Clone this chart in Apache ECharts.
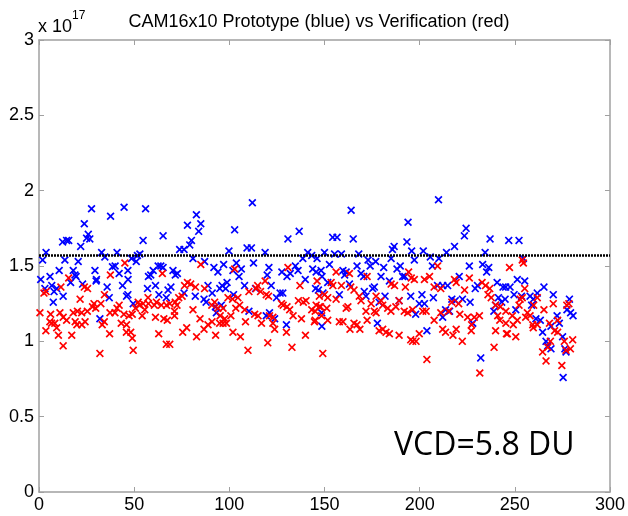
<!DOCTYPE html>
<html><head><meta charset="utf-8">
<script src="https://cdn.jsdelivr.net/npm/echarts@6/dist/echarts.min.js"></script>
<style>html,body{margin:0;padding:0;background:#fff}#c{width:628px;height:516px}</style>
</head><body><div id="c"></div>
<script>
var titleText = 'CAM16x10 Prototype (blue) vs Verification (red)';
var annotation = 'VCD=5.8 DU';
var xTicks = [0, 50, 100, 150, 200, 250, 300];
var yTicks = [0, 0.5, 1, 1.5, 2, 2.5, 3];
var referenceLevel = 1.566;
var prototypeBlue = [
[0.9,1.41],[1.9,1.54],[3.1,1.35],[3.7,1.59],[5.8,1.43],[6.7,1.37],[7.5,1.26],[7.9,1.33],[9.3,1.35],[10.6,1.47],[12.4,1.66],[12.7,1.30],[13.6,1.54],[14.5,1.67],[15.6,1.67],[16.6,1.39],[18,1.47],[18.9,1.44],[19.5,1.43],[20.6,1.53],[21.9,1.63],[22.9,1.38],[23.8,1.78],[25,1.685],[25.9,1.71],[26.7,1.68],[27.6,1.88],[29.4,1.47],[30,1.40],[30.2,1.41],[32,1.15],[32.9,1.59],[34.6,1.56],[35.8,1.36],[36.9,1.29],[37.6,1.83],[38.6,1.495],[40,1.50],[41,1.59],[42.1,1.45],[43.9,1.37],[44.7,1.89],[46.7,1.47],[46.7,1.31],
[46.8,1.41],[46.0,1.30],[48.6,1.55],[49.5,1.25],[51.1,1.53],[51.7,1.57],[53,1.58],[54.7,1.67],[56,1.88],[57,1.35],[57.5,1.43],[58.7,1.44],[60,1.47],[61.2,1.37],[62.6,1.50],[63,1.31],[64,1.50],[65.2,1.49],[65.2,1.70],[66.9,1.29],[67.8,1.34],[69.3,1.36],[70.4,1.47],[71.6,1.44],[72.7,1.45],[73.9,1.61],[76.2,1.61],[76.2,1.32],[78,1.77],[79.2,1.64],[80.1,1.67],[80.9,1.55],[82.1,1.30],[82.7,1.84],[83.9,1.73],[85,1.78],[86.7,1.28],[87,1.53],[87.8,1.26],[88.8,1.37],[91,1.32],[91.9,1.49],[92.7,1.23],[93.2,1.19],[94,1.46],[95,1.35],[95.8,1.24],
[96.2,1.37],[97,1.51],[98.1,1.35],[98.8,1.39],[99.8,1.60],[101.9,1.47],[102.2,1.31],[102.8,1.74],[103.7,1.52],[105.1,1.43],[106.3,1.48],[108,1.37],[109.3,1.62],[110.3,1.20],[111.6,1.62],[112.1,1.92],[112.7,1.52],[113.8,1.35],[118.8,1.59],[119.4,1.17],[119.9,1.44],[120.8,1.49],[121.1,1.19],[122,1.37],[123.8,1.15],[124.8,1.29],[126.7,1.32],[127.6,1.46],[128.1,1.32],[130,1.11],[130.3,1.43],[130.8,1.68],[132,1.45],[134.7,1.50],[136.1,1.47],[136.7,1.73],[138.6,1.55],[139.9,1.41],[141.2,1.59],[143.3,1.57],[143.8,1.48],[145.3,1.35],[146.1,1.55],[148.5,1.19],[148.7,1.43],[149.2,1.32],
[145.6,1.46],[146.8,1.34],[148.2,1.47],[148.6,1.10],[150,1.59],[151.7,1.39],[152.6,1.51],[154.3,1.69],[155.3,1.58],[156.6,1.69],[157.8,1.31],[158.9,1.58],[159.7,1.47],[160.6,1.44],[161.4,1.46],[163.1,1.38],[164,1.87],[165.1,1.68],[167.1,1.50],[168,1.58],[169.2,1.45],[170.6,1.43],[170.9,1.33],[171.8,1.30],[172.9,1.54],[174,1.50],[175.3,1.35],[176.2,1.36],[176.9,1.53],[177.8,1.12],[178.7,1.26],[179.7,1.43],[181.1,1.49],[181.8,1.30],[184.1,1.40],[185,1.55],[185.7,1.61],[186.6,1.63],[188.1,1.48],[189.2,1.27],[189.8,1.50],[191.1,1.43],[192.2,1.43],[193.3,1.66],[193.9,1.79],[195.3,1.30],[195.8,1.60],
[197.2,1.54],[197.9,1.18],[199.8,1.25],[201.2,1.31],[201.9,1.60],[202.5,1.25],[203.8,1.07],[205.6,1.56],[206.7,1.50],[207.2,1.29],[209.4,1.37],[209.9,1.94],[210.1,1.55],[212.1,1.37],[212.1,1.16],[213.6,1.21],[214.1,1.59],[214.7,1.37],[215.7,1.20],[216.9,1.28],[218.3,1.63],[218.7,1.27],[220.8,1.43],[222.5,1.28],[223.5,1.70],[224.4,1.75],[226.1,1.50],[226.5,1.26],[227.9,1.12],[229.2,1.35],[230.4,1.37],[232.1,0.89],[233.1,1.51],[234.4,1.59],[235.2,1.46],[236.3,1.49],[237,1.68],[239,1.20],[239.9,1.24],[240.7,1.39],[241.4,1.29],[243.1,1.26],[243.8,1.36],[244.9,1.28],[245.2,1.36],[246.8,1.67],
[247.5,1.36],[249.6,1.31],[250.5,1.21],[251.3,1.41],[252.2,1.67],[253.5,1.30],[254.5,1.55],[255.2,1.40],[258,1.30],[258.8,1.24],[259.7,1.28],[261.1,1.15],[261.8,1.32],[263.4,1.14],[264.6,1.06],[265.3,1.36],[266.4,1.00],[267.3,0.97],[269,0.95],[269,1.10],[270.2,1.31],[272.2,1.17],[273.4,1.12],[275.1,1.03],[275.4,0.76],[276.3,0.95],[276.9,0.93],[277.4,1.21],[278.7,1.28],[279.3,1.19],[280.6,1.17]
];
var verificationRed = [
[0.5,1.19],[2.6,1.32],[3.6,1.07],[3.7,1.33],[5.7,1.13],[6.1,1.18],[6.6,1.12],[8.3,1.12],[9.3,1.09],[10.2,1.04],[11,1.19],[11.5,1.36],[12.7,1.16],[12.7,0.97],[14.5,1.14],[15.6,1.42],[17.2,1.04],[18,1.19],[19,1.13],[19.9,1.11],[20.2,1.20],[21.6,1.28],[22.4,1.19],[22.5,1.11],[23.8,1.36],[24.2,1.13],[25.4,1.20],[25.5,1.35],[28.1,1.23],[28.9,1.25],[29.8,1.22],[32,0.92],[32.5,1.25],[33.2,1.11],[34.3,1.13],[34.4,1.31],[37.1,1.05],[37.3,1.19],[37.5,1.44],[39.9,1.19],[41,1.22],[42.1,1.24],[43.2,1.12],[44.6,1.18],[45.1,1.52],[45.9,1.06],
[46,1.11],[47.3,1.17],[48.2,1.06],[49,1.18],[49,1.02],[49.5,0.94],[50.7,1.22],[52.1,1.26],[52.9,1.24],[54.2,1.17],[54.7,1.25],[55.6,1.21],[57.3,1.29],[57.5,1.25],[60.6,1.24],[61.2,1.16],[61.7,1.26],[62.9,1.05],[64.3,1.24],[64.8,1.45],[65.6,1.15],[66.9,0.98],[67,1.24],[67.4,1.14],[68.7,1.25],[68.7,0.98],[71.2,1.20],[71.2,1.17],[71.6,1.26],[72.5,1.24],[73.4,1.29],[75.2,1.30],[75.5,1.06],[76.5,1.37],[77.6,1.09],[78,1.39],[79.7,1.38],[80.9,1.21],[82.2,1.36],[82.8,1.03],[84.6,1.15],[85,1.51],[86.7,1.08],[87,1.35],[88.8,1.11],[90.8,1.24],[90.9,1.13],[92.3,1.26],[92.8,1.04],[94,1.22],[95.2,1.17],
[94.9,1.12],[96.7,1.12],[96.7,1.22],[97.6,1.15],[98.5,1.12],[99.3,1.29],[100.8,1.17],[101.7,1.28],[101.9,1.06],[102.8,1.48],[103.4,1.22],[104.5,1.29],[105.4,1.24],[105.8,1.03],[108.1,1.21],[108.5,1.13],[109.8,0.94],[110.3,1.33],[113.3,1.18],[114.1,1.35],[114.9,1.37],[115.1,1.17],[116.4,1.33],[116.9,1.12],[118.8,1.40],[119.4,1.31],[120.2,0.99],[120.6,1.30],[121.1,1.17],[122.9,1.16],[122.9,1.12],[123.8,1.08],[127.4,1.25],[128.3,1.24],[130,1.06],[130.3,1.23],[130.8,1.49],[131.7,1.21],[132.9,0.96],[133.5,1.17],[136.3,1.27],[137.1,1.37],[137.9,1.15],[138.9,1.26],[140,1.04],[140.3,1.27],[143.3,1.21],[145.1,1.20],[145.1,1.14],[146.1,1.40],[147.9,1.23],[148.5,1.17],
[144.7,1.13],[145.6,1.24],[147.3,1.30],[147.3,1.23],[149.1,0.92],[150,1.31],[151.2,1.22],[151.7,1.29],[151.7,1.14],[153.5,1.39],[154.4,1.37],[156.1,1.46],[156.1,1.28],[157.8,1.13],[158.9,1.37],[159.7,1.13],[161.4,1.22],[162.3,1.23],[163.1,1.45],[163.4,1.08],[163.8,1.36],[165.5,1.34],[165.5,1.12],[167.1,1.11],[168.3,1.30],[168.6,1.08],[169.2,1.27],[171.8,1.20],[172.4,1.43],[172.4,1.14],[174.5,1.25],[176.2,1.20],[177.1,1.30],[177.1,1.19],[178.7,1.07],[179.7,1.27],[180.6,1.24],[180.6,1.08],[182.3,1.06],[183.2,1.22],[184.1,1.05],[184.9,1.20],[185,1.38],[186.8,1.37],[187.5,1.23],[189.2,1.27],[189.2,1.04],[191.9,1.20],[192.5,1.36],[193.7,1.19],[194.2,1.46],[195.3,1.01],[195.6,1.42],
[196.3,1.21],[196.3,1.00],[197.2,1.41],[198.1,1.00],[199.8,1.05],[201.6,1.20],[202.5,1.41],[203.4,1.20],[203.8,0.88],[205.2,1.43],[207.6,1.36],[207.6,1.14],[209.4,1.50],[211.1,1.35],[211.1,1.19],[212.1,1.08],[213.6,1.06],[215.2,1.20],[216.9,1.26],[217.5,1.04],[218.3,1.41],[219.2,1.39],[219.2,1.08],[220.5,1.25],[221.1,1.18],[222.4,1.00],[223.6,1.34],[225.2,1.16],[226.1,1.42],[227.1,1.07],[227.3,1.11],[228.7,1.16],[231.4,1.17],[231.6,0.79],[232.8,1.39],[234.6,1.37],[235.9,1.31],[236.8,1.35],[237.6,1.29],[239.1,0.96],[239.9,1.24],[239.9,1.07],[241,1.17],[242.1,1.14],[242.4,1.23],[245.3,1.12],[245.6,1.05],[247.2,1.49],
[245.3,1.20],[246.1,1.05],[248.7,1.17],[249.2,1.11],[250.5,1.03],[251.3,1.14],[252.2,1.24],[252.8,1.28],[253.9,1.29],[253.9,1.54],[254.5,1.52],[255.2,1.35],[255.7,1.16],[256.6,1.19],[258,1.17],[259.4,1.11],[259.7,1.09],[259.9,1.24],[261.8,1.29],[261.8,1.11],[264.6,0.93],[265.3,1.21],[266.4,0.87],[267.3,0.96],[268.2,1.12],[268.7,1.00],[270.2,1.25],[270.9,1.07],[272.5,1.14],[272.5,1.06],[274.7,0.84],[276,1.00],[276.9,0.94],[277.3,1.24],[278.4,1.25],[279.2,0.95],[280.4,1.01]
];

var X_PATH = 'path://M0,1.5L1.5,0L5,3.5L8.5,0L10,1.5L6.5,5L10,8.5L8.5,10L5,6.5L1.5,10L0,8.5L3.5,5Z';
var FONT = 'Liberation Sans, Arial, sans-serif';
var axisGrey = '#a0a0a0';

var chart = echarts.init(document.getElementById('c'), null, {renderer: 'canvas'});
function xAx(pos, show) {
  return {type: 'value', position: pos, min: 0, max: 300, interval: 50,
    axisLine: {show: true, onZero: false, lineStyle: {color: axisGrey, width: 1.5}},
    axisTick: {show: true, inside: true, length: 5, lineStyle: {color: axisGrey}},
    axisLabel: {show: show, color: '#000', fontFamily: FONT, fontSize: 18, margin: 4},
    splitLine: {show: false}};
}
function yAx(pos, show) {
  return {type: 'value', position: pos, min: 0, max: 3, interval: 0.5,
    axisLine: {show: true, onZero: false, lineStyle: {color: axisGrey, width: 1.5}},
    axisTick: {show: true, inside: true, length: 5, lineStyle: {color: axisGrey}},
    axisLabel: {show: show, color: '#000', fontFamily: FONT, fontSize: 18, margin: 5},
    splitLine: {show: false}};
}
chart.setOption({
  animation: false,
  backgroundColor: '#fff',
  grid: {left: 39, right: 16, top: 40, bottom: 24, containLabel: false},
  xAxis: [xAx('bottom', true), xAx('top', false)],
  yAxis: [yAx('left', true), yAx('right', false)],
  title: {text: titleText, left: 314, textAlign: 'center', top: 8,
    textStyle: {fontFamily: FONT, fontSize: 18, fontWeight: 'normal', color: '#000'}},
  graphic: [
    {type: 'text', left: 38, top: 10, style: {text: '{a|x 10}{b|17}', rich: {
      a: {fontFamily: FONT, fontSize: 18, fill: '#000', verticalAlign: 'bottom', padding: [8, 0, 0, 0]},
      b: {fontFamily: FONT, fontSize: 12, fill: '#000', verticalAlign: 'top'}}}},
    {type: 'text', left: 394, top: 430, style: {text: annotation, fontFamily: 'Open Sans, sans-serif', fontSize: 32, fill: '#000'}}
  ],
  series: [
    {type: 'scatter', name: 'Prototype', data: prototypeBlue, symbol: X_PATH, symbolSize: 8,
      itemStyle: {color: '#0000ff', opacity: 1},
      markLine: {silent: true, symbol: ['none', 'none'], label: {show: false},
        lineStyle: {color: '#000', type: [2, 1], width: 2.5}, data: [{yAxis: referenceLevel}]}},
    {type: 'scatter', name: 'Verification', data: verificationRed, symbol: X_PATH, symbolSize: 8,
      itemStyle: {color: '#ff0000', opacity: 1}}
  ]
});
</script></body></html>
